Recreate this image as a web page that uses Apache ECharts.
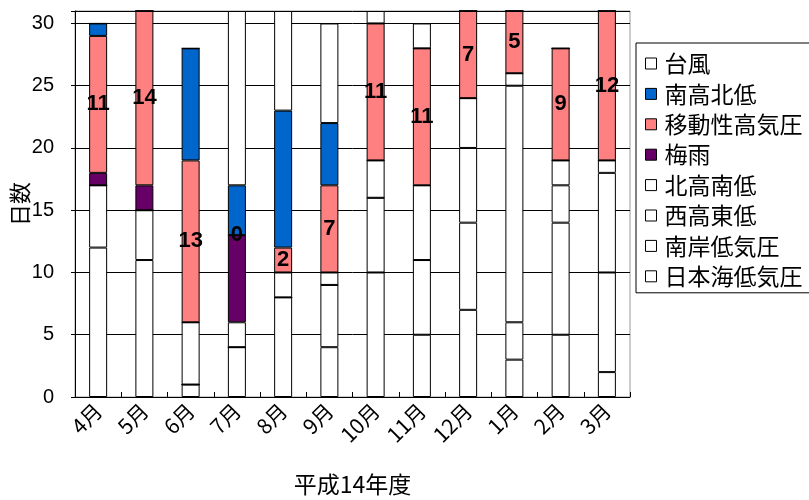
<!DOCTYPE html>
<html>
<head>
<meta charset="utf-8">
<script src="https://cdn.jsdelivr.net/npm/echarts@6/dist/echarts.min.js"></script>
<style>
  html, body { margin: 0; padding: 0; background: #fff; }
  #chart { width: 809px; height: 500px; }
</style>
</head>
<body>
<div id="chart"></div>
<script>
// 月ごとの気圧配置日数（平成14年度）
const months = ['4月', '5月', '6月', '7月', '8月', '9月', '10月', '11月', '12月', '1月', '2月', '3月'];
const yTicks = [0, 5, 10, 15, 20, 25, 30];

// 積み上げ順：下から上へ
const nihonkaiTeikiatsu = [12, 11, 1, 4, 8, 4, 10, 5, 7, 3, 5, 2];   // 日本海低気圧
const nanganTeikiatsu   = [5, 4, 0, 0, 0, 5, 6, 6, 7, 3, 9, 8];      // 南岸低気圧
const seikoTotei        = [0, 0, 0, 0, 0, 0, 0, 0, 6, 19, 3, 8];     // 西高東低
const hokkoNantei       = [0, 0, 5, 2, 2, 1, 3, 6, 4, 1, 2, 1];      // 北高南低
const baiu              = [1, 2, 0, 7, 0, 0, 0, 0, 0, 0, 0, 0];      // 梅雨
const idoseiKoukiatsu   = [11, 14, 13, 0, 2, 7, 11, 11, 7, 5, 9, 12]; // 移動性高気圧
const nankoHokutei      = [1, 0, 9, 4, 11, 5, 0, 0, 0, 0, 0, 0];     // 南高北低
const taifu             = [0, 0, 0, 14, 8, 8, 1, 2, 0, 0, 0, 0];     // 台風

const legendOrder = ['台風', '南高北低', '移動性高気圧', '梅雨', '北高南低', '西高東低', '南岸低気圧', '日本海低気圧'];

const FONT = '"Noto Sans CJK JP", "Noto Sans", sans-serif';
const EDGE = '#000';

function barSeries(name, data, fill, withLabel) {
  return {
    name: name,
    type: 'bar',
    stack: 'days',
    data: data,
    barWidth: 18,
    itemStyle: { color: fill, borderColor: EDGE, borderWidth: 1 },
    label: withLabel ? {
      show: true,
      position: 'inside',
      color: '#000',
      fontWeight: 'bold',
      fontSize: 22,
      fontFamily: '"Liberation Sans", Arial, sans-serif'
    } : { show: false },
    emphasis: { disabled: true },
    animation: false
  };
}

const chart = echarts.init(document.getElementById('chart'), null, { renderer: 'canvas' });

chart.setOption({
  backgroundColor: '#fff',
  animation: false,
  textStyle: { fontFamily: FONT },
  grid: {
    left: 75, top: 11, width: 555, height: 386,
    containLabel: false,
    outerBoundsMode: 'none',
    show: true, borderColor: '#999', borderWidth: 1, backgroundColor: 'transparent'
  },
  legend: {
    orient: 'vertical',
    left: 636, top: 43,
    data: legendOrder,
    icon: 'rect',
    itemWidth: 11, itemHeight: 11,
    itemGap: 7.4,
    padding: [9, 40, 5, 9],
    borderColor: '#000', borderWidth: 1,
    backgroundColor: '#fff',
    itemStyle: { borderColor: '#000', borderWidth: 1 },
    textStyle: { color: '#000', fontSize: 23, fontFamily: FONT, padding: [0, 0, 0, 3] },
    selectedMode: false
  },
  xAxis: {
    type: 'category',
    data: months,
    boundaryGap: true,
    name: '平成14年度',
    nameLocation: 'middle',
    nameGap: 76,
    nameMoveOverlap: false,
    nameTextStyle: { color: '#000', fontSize: 23, fontFamily: FONT },
    axisLine: { lineStyle: { color: '#000', width: 1 } },
    axisTick: { show: true, inside: true, length: 5, lineStyle: { color: '#000' } },
    axisLabel: { rotate: 45, color: '#000', fontSize: 21, margin: 10, fontFamily: FONT, interval: 0 },
    splitLine: { show: false }
  },
  yAxis: {
    type: 'value',
    min: 0, max: 31, interval: 5,
    name: '日数',
    nameLocation: 'middle',
    nameRotate: 90,
    nameGap: 44,
    nameMoveOverlap: false,
    nameTextStyle: { color: '#000', fontSize: 22, fontFamily: FONT },
    axisLine: { show: true, lineStyle: { color: '#000', width: 1 } },
    axisTick: { show: true, length: 4, lineStyle: { color: '#000' } },
    axisLabel: {
      color: '#000', fontSize: 20, margin: 21,
      fontFamily: '"Liberation Sans", Arial, sans-serif',
      formatter: function (v) { return yTicks.indexOf(v) >= 0 ? String(v) : ''; }
    },
    splitLine: { show: true, lineStyle: { color: '#000', width: 1 } }
  },
  series: [
    barSeries('日本海低気圧', nihonkaiTeikiatsu, '#fff', false),
    barSeries('南岸低気圧', nanganTeikiatsu, '#fff', false),
    barSeries('西高東低', seikoTotei, '#fff', false),
    barSeries('北高南低', hokkoNantei, '#fff', false),
    barSeries('梅雨', baiu, '#660066', false),
    barSeries('移動性高気圧', idoseiKoukiatsu, '#FF8080', true),
    barSeries('南高北低', nankoHokutei, '#0066CC', false),
    barSeries('台風', taifu, '#fff', false)
  ]
});
</script>
</body>
</html>
